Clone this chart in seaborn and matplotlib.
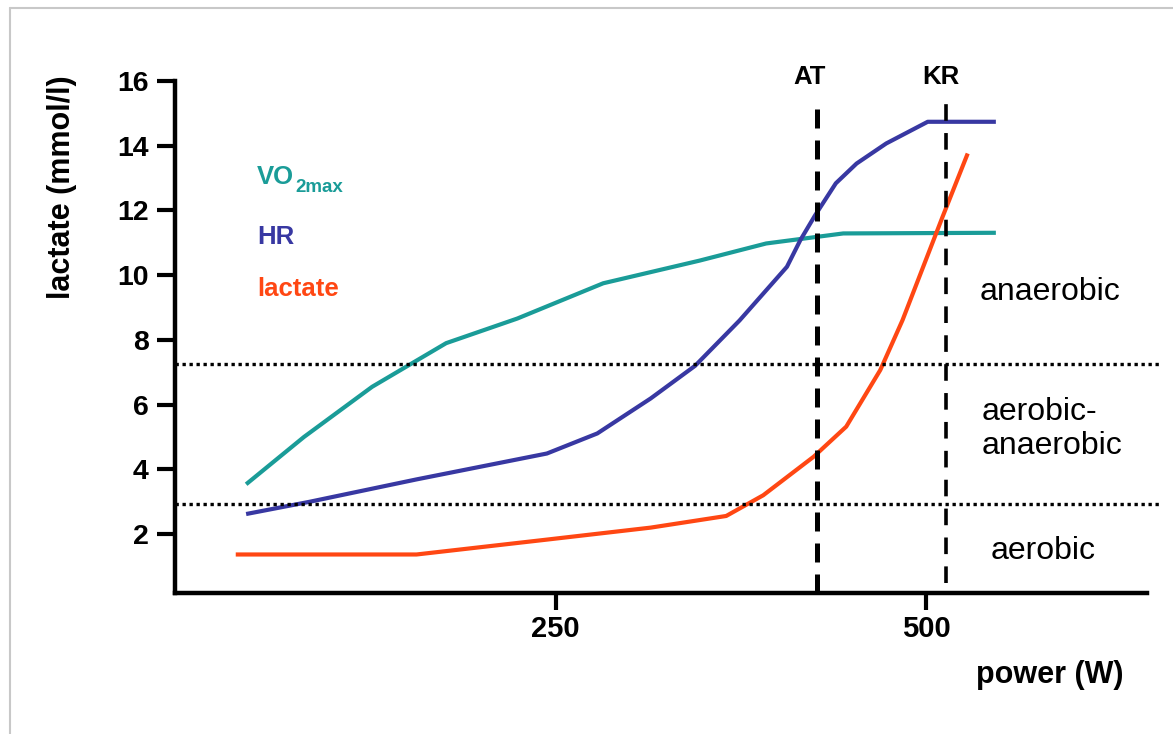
import matplotlib
matplotlib.use("Agg")
import numpy as np
import pandas as pd
import matplotlib.pyplot as plt
import seaborn as sns
from matplotlib.lines import Line2D

sns.set_theme(style="white")
plt.rcParams["font.family"] = ["Liberation Sans", "DejaVu Sans"]
plt.rcParams["text.color"] = "black"
plt.rcParams["xtick.color"] = "black"
plt.rcParams["ytick.color"] = "black"
plt.rcParams["axes.labelcolor"] = "black"

# values
vo2_power = [41, 80, 126, 176, 224, 282, 347, 392, 444, 547]
vo2_value = [3.54, 5.0, 6.55, 7.9, 8.66, 9.75, 10.45, 10.98, 11.29, 11.31]

hr_power = [41, 84, 156, 244, 278, 314, 344, 374, 406, 415, 425, 439, 453, 473, 501, 547]
hr_value = [2.62, 3.0, 3.69, 4.49, 5.11, 6.19, 7.2, 8.6, 10.26, 11.08, 11.85, 12.84, 13.45, 14.07, 14.74, 14.74]

lac_power = [34, 156, 244, 314, 365, 390, 424, 446, 469, 484, 511, 528]
lac_value = [1.37, 1.37, 1.83, 2.2, 2.56, 3.2, 4.39, 5.32, 7.07, 8.61, 11.8, 13.76]

zone_limits = [7.27, 2.92]
at_power = 426.6
kr_power = 513.6
x_ticks = [250, 500]
y_ticks = [2, 4, 6, 8, 10, 12, 14, 16]

c_vo2 = "#1a9c98"
c_hr = "#3838a2"
c_lac = "#ff4713"

W, H = 1173, 734
fig = plt.figure(figsize=(W / 100, H / 100), dpi=100)
ax = fig.add_axes([175 / W, 1 - 593 / H, (1147 - 175) / W, (593 - 81) / H])

for px, val, col in [(vo2_power, vo2_value, c_vo2),
                     (hr_power, hr_value, c_hr),
                     (lac_power, lac_value, c_lac)]:
    df = pd.DataFrame({"power": px, "value": val})
    sns.lineplot(data=df, x="power", y="value", color=col, lw=3.0,
                 sort=False, ax=ax, solid_capstyle="butt")

ax.set_xlim(-7, 649)
ax.set_ylim(0.18, 16)

# zone borders
for yv in zone_limits:
    ax.plot([-7, 657], [yv, yv], color="black", lw=2.4,
            linestyle=(0, (1, 1.1)), clip_on=False)

# thresholds
ax.plot([at_power, at_power], [0.18, 15.3], color="black", lw=3.6,
        linestyle=(0, (3.8, 2.4)))
ax.plot([kr_power, kr_power], [0.48, 15.65], color="black", lw=2.6,
        linestyle=(0, (4.6, 3.4)))

ax.set_xticks(x_ticks)
ax.set_yticks(y_ticks)
ax.set_xticklabels([str(t) for t in x_ticks], fontsize=21, fontweight="bold")
ax.set_yticklabels([str(t) for t in y_ticks], fontsize=20.5, fontweight="bold")
ax.tick_params(axis="both", direction="out", width=3, color="black",
               labelcolor="black", bottom=True, left=True)
ax.tick_params(axis="y", length=13, pad=6)
ax.tick_params(axis="x", length=12, pad=4)
ax.set_xlabel("")
ax.set_ylabel("")
ax.grid(False)
for side in ["top", "right"]:
    ax.spines[side].set_visible(False)
for side in ["left", "bottom"]:
    ax.spines[side].set_linewidth(3.2)
    ax.spines[side].set_color("black")
    ax.spines[side].set_capstyle("projecting")


def fx(x):
    return x / W


def fy(y):
    return 1 - y / H


# axis labels
fig.text(fx(62), fy(187), "lactate (mmol/l)", rotation=90, ha="center",
         va="center", fontsize=22, fontweight="bold")
fig.text(fx(1050), fy(675), "power (W)", ha="center", va="center",
         fontsize=22, fontweight="bold")

# threshold labels
fig.text(fx(810), fy(77), "AT", ha="center", va="center", fontsize=18.5,
         fontweight="bold")
fig.text(fx(941), fy(77), "KR", ha="center", va="center", fontsize=18.5,
         fontweight="bold")

# series labels
fig.text(fx(257), fy(177), "VO", ha="left", va="center", fontsize=18.5,
         fontweight="bold", color=c_vo2)
fig.text(fx(295), fy(188), "2max", ha="left", va="center", fontsize=13.5,
         fontweight="bold", color=c_vo2)
fig.text(fx(257), fy(237), "HR", ha="left", va="center", fontsize=18.5,
         fontweight="bold", color=c_hr)
fig.text(fx(257), fy(289), "lactate", ha="left", va="center", fontsize=18.5,
         fontweight="bold", color=c_lac)

# zone labels
fig.text(fx(980), fy(292), "anaerobic", ha="left", va="center", fontsize=23)
fig.text(fx(982), fy(429), "aerobic-\nanaerobic", ha="left", va="center",
         fontsize=23, linespacing=1.15)
fig.text(fx(991), fy(551), "aerobic", ha="left", va="center", fontsize=23)

# thin frame of the slide
fig.add_artist(Line2D([fx(10), fx(10)], [fy(8), 0], color="#c8c8c8", lw=1.5))
fig.add_artist(Line2D([fx(10), 1], [fy(8), fy(8)], color="#c8c8c8", lw=1.5))

fig.savefig("out.png", dpi=100)
